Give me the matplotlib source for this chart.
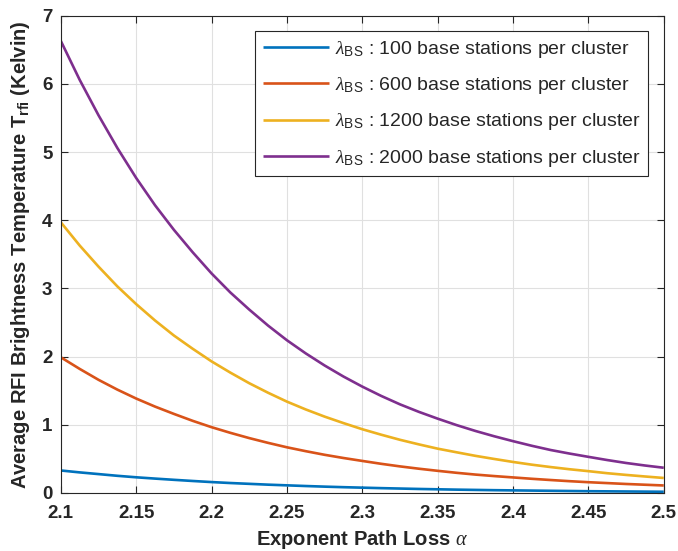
import matplotlib
matplotlib.use("Agg")
import matplotlib.pyplot as plt

alpha_vals = [2.1, 2.1125, 2.125, 2.1375, 2.15, 2.1625, 2.175, 2.1875, 2.2, 2.2125,
              2.225, 2.2375, 2.25, 2.2625, 2.275, 2.2875, 2.3, 2.3125, 2.325, 2.3375,
              2.35, 2.3625, 2.375, 2.3875, 2.4, 2.4125, 2.425, 2.4375, 2.45, 2.4625,
              2.475, 2.4875, 2.5]
t_2000 = [6.63, 6.06, 5.54, 5.06, 4.62, 4.22, 3.86, 3.53, 3.22, 2.94,
          2.69, 2.455, 2.24, 2.047, 1.87, 1.708, 1.56, 1.424, 1.30, 1.19,
          1.09, 0.996, 0.91, 0.832, 0.76, 0.692, 0.63, 0.578, 0.53, 0.483,
          0.44, 0.403, 0.37]
t_1200 = [3.97, 3.63, 3.32, 3.03, 2.77, 2.53, 2.31, 2.115, 1.93, 1.765,
          1.61, 1.47, 1.34, 1.225, 1.12, 1.025, 0.935, 0.855, 0.78, 0.713,
          0.65, 0.597, 0.545, 0.499, 0.455, 0.415, 0.38, 0.348, 0.32, 0.29,
          0.265, 0.242, 0.22]
t_600 = [1.99, 1.82, 1.66, 1.516, 1.385, 1.267, 1.16, 1.058, 0.965, 0.882,
         0.805, 0.735, 0.67, 0.613, 0.56, 0.513, 0.47, 0.428, 0.39, 0.356,
         0.325, 0.296, 0.27, 0.248, 0.228, 0.208, 0.19, 0.173, 0.158, 0.145,
         0.132, 0.121, 0.11]
t_100 = [0.33, 0.302, 0.277, 0.252, 0.23, 0.211, 0.193, 0.176, 0.16, 0.146,
         0.134, 0.122, 0.112, 0.102, 0.093, 0.085, 0.078, 0.071, 0.065, 0.059,
         0.054, 0.049, 0.045, 0.041, 0.038, 0.035, 0.032, 0.029, 0.026, 0.024,
         0.022, 0.02, 0.018]
series = [t_100, t_600, t_1200, t_2000]
counts = ["100", "600", "1200", "2000"]
colors = ["#0072BD", "#D95319", "#EDB120", "#7E2F8E"]
xticks = [2.1, 2.15, 2.2, 2.25, 2.3, 2.35, 2.4, 2.45, 2.5]
xticklabels = ["2.1", "2.15", "2.2", "2.25", "2.3", "2.35", "2.4", "2.45", "2.5"]
yticks = [0, 1, 2, 3, 4, 5, 6, 7]

plt.rcParams['font.family'] = ['Liberation Sans', 'DejaVu Sans']
plt.rcParams['mathtext.fontset'] = 'custom'
plt.rcParams['mathtext.rm'] = 'Liberation Sans'
plt.rcParams['mathtext.sf'] = 'Liberation Sans'
plt.rcParams['mathtext.bf'] = 'Liberation Sans:bold'
plt.rcParams['mathtext.it'] = 'Liberation Serif:italic'

fig = plt.figure(figsize=(6.78, 5.51), dpi=100)
ax = fig.add_axes([0.0897, 0.1053, 0.979 - 0.0897, 0.9715 - 0.1053])

dark = "#262626"
for ys, c, n in zip(series, colors, counts):
    ax.plot(alpha_vals, ys, color=c, linewidth=1.9, solid_capstyle="butt",
            label=r"$\lambda_{\mathrm{BS}}$ : " + n + " base stations per cluster")

ax.set_xlim(2.1, 2.5)
ax.set_ylim(0, 7)
ax.set_xticks(xticks)
ax.set_xticklabels(xticklabels)
ax.set_yticks(yticks)
ax.grid(True, color="#E0E0E0", linewidth=0.8)
ax.set_axisbelow(True)
for s in ax.spines.values():
    s.set_color(dark)
    s.set_linewidth(0.8)
ax.tick_params(direction="in", length=5, width=0.8, top=True, right=True,
               colors=dark, labelsize=13.5)
ax.tick_params(axis="x", pad=9)
ax.tick_params(axis="y", pad=6)
for lab in ax.get_xticklabels() + ax.get_yticklabels():
    lab.set_fontweight("bold")

ax.set_xlabel(r"Exponent Path Loss $\alpha$", fontsize=14.5, fontweight="bold",
              color=dark, labelpad=4)
ax.set_ylabel(r"Average RFI Brightness Temperature T$_{\mathbf{rfi}}$ (Kelvin)",
              fontsize=14.5, fontweight="bold", color=dark, labelpad=7)

leg = ax.legend(loc="upper right", fontsize=14, handlelength=3.4,
                framealpha=1, fancybox=False, edgecolor=dark,
                borderaxespad=0.8, labelspacing=0.78, handletextpad=0.3,
                borderpad=0.4)
leg.get_frame().set_linewidth(0.8)
for t in leg.get_texts():
    t.set_color(dark)

fig.savefig("out.png", dpi=100)
